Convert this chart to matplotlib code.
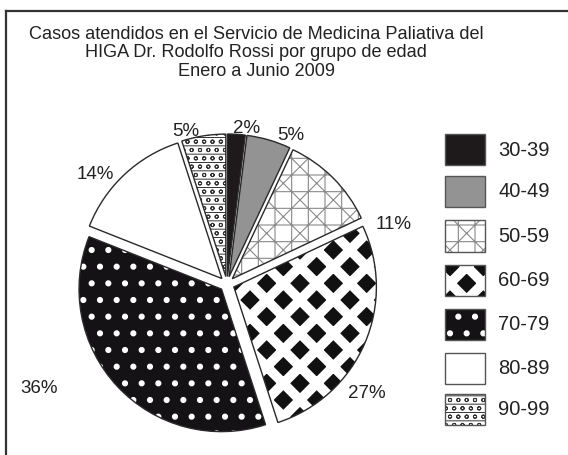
import matplotlib
matplotlib.use("Agg")
import matplotlib.pyplot as plt
from matplotlib.patches import Rectangle
from matplotlib.lines import Line2D
import numpy as np

plt.rcParams['font.family'] = ['Liberation Sans', 'DejaVu Sans']

# ---- data ----
categories = ["30-39", "40-49", "50-59", "60-69", "70-79", "80-89", "90-99"]
percentages = [2, 5, 11, 27, 36, 14, 5]
pct_labels = ["2%", "5%", "11%", "27%", "36%", "14%", "5%"]
title_lines = ["Casos atendidos en el Servicio de Medicina Paliativa del",
               "HIGA Dr. Rodolfo Rossi por grupo de edad",
               "Enero a Junio 2009"]

# ---- styles ----
faces = ["#1e1a1b", "#939393", "white", "#111111", "#141214", "white", "white"]
hatch_cols = ["#1e1a1b", "#939393", "#8a8a8a", "white", "white", "white", "#333333"]
hatches = [None, None, "x+", "x", ".", None, "--oo"]
hatch_lw = [1, 1, 0.8, 7.0, 2.0, 1, 0.7]
explode = [0.05] * 7
# label placement (angle in deg, distance in axes radius units)
lab_pos = [(82.7, 1.05), (67, 1.08), (20, 1.18), (-38, 1.18), (209, 1.43), (140, 1.15), (105, 1.06)]

W, H = 568, 456
fig = plt.figure(figsize=(W / 100, H / 100), dpi=100)

# frame (only left & top edges visible in the crop)
fig.add_artist(Line2D([6 / W, 6 / W], [0, 1 - 12 / H], color="#333333", lw=1.6))
fig.add_artist(Line2D([6 / W, 1], [1 - 12 / H, 1 - 12 / H], color="#333333", lw=1.6))

# title
fig.text(256 / W, 1 - 26 / H, "\n".join(title_lines), ha="center", va="top",
         fontsize=13.1, linespacing=1.1, color="#222222")

# pie axes: center at (227, 285) px, radius 150 px
cx, cy, R = 227, 285, 150
ax = fig.add_axes([(cx - R) / W, (H - cy - R) / H, 2 * R / W, 2 * R / H])

r = 0.95
ws, _ = ax.pie(percentages, startangle=90, counterclock=False, explode=explode,
               radius=r, colors=faces, wedgeprops=dict(linewidth=0))
for w, hc, h, hl in zip(ws, hatch_cols, hatches, hatch_lw):
    w.set_edgecolor(hc)
    if h:
        w.set_hatch(h)
    w.set_linewidth(0)
    if hasattr(w, "set_hatch_linewidth"):
        w.set_hatch_linewidth(hl)

# outlines
outl, _ = ax.pie(percentages, startangle=90, counterclock=False, explode=explode,
                 radius=r, wedgeprops=dict(fill=False, edgecolor="#2a2a2a", linewidth=1.0))

ax.set_xlim(-1, 1)
ax.set_ylim(-1, 1)
ax.set_aspect("equal")
ax.axis("off")

for txt, (ang, d) in zip(pct_labels, lab_pos):
    a = np.deg2rad(ang)
    ax.text(d * np.cos(a), d * np.sin(a), txt, ha="center", va="center",
            fontsize=13.5, color="#222222", clip_on=False)

# legend
bx, bw, bh = 445, 40, 31
ys = [150, 192, 237, 281, 325, 369, 410]
for cat, fc, hc, h, hl, yc in zip(categories, faces, hatch_cols, hatches, hatch_lw, ys):
    rect = Rectangle((bx / W, 1 - (yc + bh / 2) / H), bw / W, bh / H, transform=fig.transFigure,
                     facecolor=fc, edgecolor=hc, hatch=h, linewidth=0)
    if hasattr(rect, "set_hatch_linewidth"):
        rect.set_hatch_linewidth(hl)
    fig.add_artist(rect)
    fig.add_artist(Rectangle((bx / W, 1 - (yc + bh / 2) / H), bw / W, bh / H, transform=fig.transFigure,
                             fill=False, edgecolor="#555555", linewidth=1.0))
    fig.text(498 / W, 1 - yc / H, cat, ha="left", va="center", fontsize=14.5, color="#222222")

fig.savefig("out.png", dpi=100)
